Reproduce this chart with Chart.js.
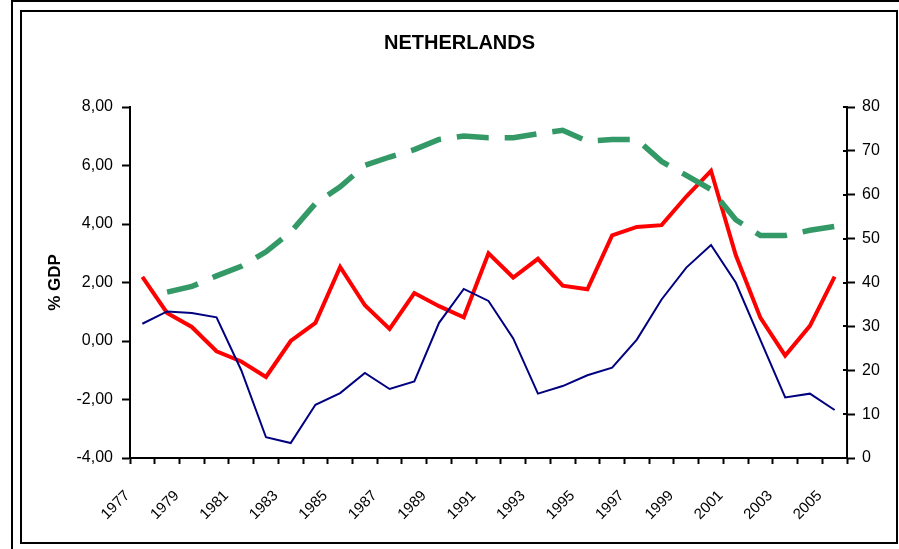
<!DOCTYPE html>
<html>
<head>
<meta charset="utf-8">
<title>Netherlands</title>
<script src="https://cdn.jsdelivr.net/npm/chart.js@4.4.0/dist/chart.umd.min.js"></script>
<style>
  html, body { margin: 0; padding: 0; background: #fff; }
  #wrap { position: relative; width: 899px; height: 549px; overflow: hidden; }
  #chart { position: absolute; left: 0; top: 0; }
  .frame { position: absolute; pointer-events: none; box-sizing: border-box; }
  #outer { left: 11px; top: 0; width: 900px; height: 560px; border-left: 2px solid #000; border-top: 2px solid #000; }
  #inner { left: 20px; top: 10px; width: 878px; height: 534px; border: 2px solid #000; }
</style>
</head>
<body>
<div id="wrap">
  <canvas id="chart" width="899" height="549"></canvas>
  <div class="frame" id="outer"></div>
  <div class="frame" id="inner"></div>
</div>
<script>
// Years on the category axis
const years = ['1977', '1978', '1979', '1980', '1981', '1982', '1983', '1984', '1985', '1986',
    '1987', '1988', '1989', '1990', '1991', '1992', '1993', '1994', '1995', '1996',
    '1997', '1998', '1999', '2000', '2001', '2002', '2003', '2004', '2005'];

// Thin navy line, left axis (% GDP)
const blueSeries = [0.59, 1.01, 0.96, 0.81, -1.00, -3.29, -3.49, -2.18, -1.78, -1.09,
    -1.64, -1.38, 0.62, 1.78, 1.37, 0.09, -1.80, -1.54, -1.17, -0.91,
    0.05, 1.42, 2.51, 3.28, 2.00, 0.03, -1.93, -1.80, -2.36];

// Thick red line, left axis (% GDP)
const redSeries = [2.19, 0.96, 0.48, -0.35, -0.70, -1.23, 0.00, 0.62, 2.53, 1.22,
    0.41, 1.64, 1.19, 0.81, 3.00, 2.17, 2.81, 1.89, 1.77, 3.61,
    3.90, 3.96, 4.94, 5.82, 2.94, 0.79, -0.50, 0.52, 2.20];

// Dashed green line, right axis
const greenSeries = [null, 37.8, 39.1, 41.5, 43.7, 47.0, 51.5, 58.0, 61.8, 66.7,
    68.6, 70.3, 72.6, 73.4, 73.0, 73.0, 73.9, 74.7, 72.2, 72.6,
    72.6, 67.6, 64.4, 61.2, 54.3, 50.7, 50.7, 51.9, 52.8];

// Axis ranges
const leftTicks = { min: -4, max: 8, step: 2 };
const rightTicks = { min: 0, max: 80, step: 10 };

const FONT = "'Liberation Sans', Arial, sans-serif";

// small tick marks on the inside of the right axis (Excel draws them crossing)
const crossTicks = {
    id: 'crossTicks',
    afterDraw(chart) {
        const y2 = chart.scales.y2;
        const ctx = chart.ctx;
        ctx.save();
        ctx.strokeStyle = '#000';
        ctx.lineWidth = 2;
        y2.ticks.forEach(t => {
            const py = Math.round(y2.getPixelForValue(t.value));
            ctx.beginPath();
            ctx.moveTo(y2.left - 4, py);
            ctx.lineTo(y2.left, py);
            ctx.stroke();
        });
        ctx.restore();
    }
};

const ctx = document.getElementById('chart').getContext('2d');
new Chart(ctx, {
    type: 'line',
    data: {
        labels: years,
        datasets: [
            {
                label: 'Series 3',
                data: greenSeries,
                yAxisID: 'y2',
                borderColor: '#339966',
                borderWidth: 5.5,
                borderDash: [32, 16],
                borderCapStyle: 'butt',
                pointRadius: 0,
                tension: 0,
                fill: false
            },
            {
                label: 'Series 1',
                data: blueSeries,
                yAxisID: 'y',
                borderColor: '#000080',
                borderWidth: 2,
                pointRadius: 0,
                tension: 0,
                fill: false
            },
            {
                label: 'Series 2',
                data: redSeries,
                yAxisID: 'y',
                borderColor: '#ff0000',
                borderWidth: 4,
                pointRadius: 0,
                tension: 0,
                fill: false
            }
        ]
    },
    options: {
        responsive: false,
        animation: false,
        layout: { padding: { top: 12, left: 20, right: 0, bottom: 0 } },
        plugins: {
            legend: { display: false },
            tooltip: { enabled: false },
            title: {
                display: true,
                text: 'NETHERLANDS',
                color: '#000',
                font: { family: FONT, size: 20, weight: 'bold' },
                padding: { top: 19, bottom: 52 }
            }
        },
        scales: {
            x: {
                type: 'category',
                offset: true,
                grid: {
                    offset: true,
                    drawOnChartArea: false,
                    drawTicks: true,
                    tickLength: 6,
                    tickColor: '#000',
                    tickWidth: 2
                },
                border: { display: true, color: '#000', width: 2 },
                ticks: {
                    autoSkip: false,
                    minRotation: 45,
                    maxRotation: 45,
                    padding: 23,
                    labelOffset: -15,
                    color: '#000',
                    font: { family: FONT, size: 15 },
                    callback: function (val, i) {
                        return i % 2 === 0 ? this.getLabelForValue(val) : '';
                    }
                },
                afterFit: scale => { scale.height = 91; }
            },
            y: {
                position: 'left',
                min: leftTicks.min,
                max: leftTicks.max,
                grid: {
                    drawOnChartArea: false,
                    drawTicks: true,
                    tickLength: 8,
                    tickColor: '#000',
                    tickWidth: 2
                },
                border: { display: true, color: '#000', width: 2 },
                ticks: {
                    stepSize: leftTicks.step,
                    padding: 9,
                    color: '#000',
                    font: { family: FONT, size: 16 },
                    callback: v => v.toFixed(2).replace('.', ',')
                },
                title: {
                    display: true,
                    text: '% GDP',
                    color: '#000',
                    font: { family: FONT, size: 17, weight: 'bold' },
                    padding: { top: 25, bottom: 4 }
                },
                afterFit: scale => { scale.width = 110; }
            },
            y2: {
                position: 'right',
                min: rightTicks.min,
                max: rightTicks.max,
                grid: {
                    drawOnChartArea: false,
                    drawTicks: true,
                    tickLength: 8,
                    tickColor: '#000',
                    tickWidth: 2
                },
                border: { display: true, color: '#000', width: 2 },
                ticks: {
                    stepSize: rightTicks.step,
                    padding: 7,
                    color: '#000',
                    font: { family: FONT, size: 16 },
                    callback: v => String(v)
                },
                afterFit: scale => { scale.width = 52; }
            }
        }
    },
    plugins: [crossTicks]
});
</script>
</body>
</html>
